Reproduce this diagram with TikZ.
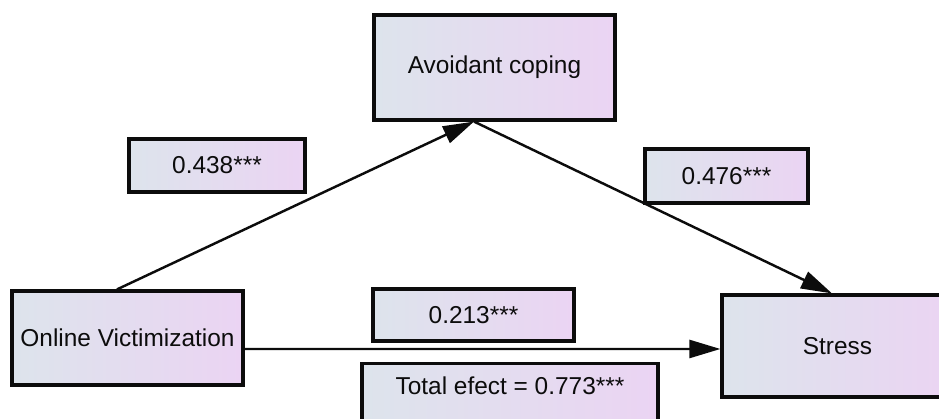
\documentclass[tikz,border=0pt]{standalone}
\usepackage{fontspec}
\setmainfont{Liberation Sans}
\definecolor{boxleft}{RGB}{221,228,236}
\definecolor{boxright}{RGB}{235,212,243}
\definecolor{boxline}{RGB}{12,12,12}
\usetikzlibrary{arrows.meta}

\begin{document}
\begin{tikzpicture}[
  vbox/.style={rectangle, draw=boxline, line width=1.8pt,
               left color=boxleft, right color=boxright,
               minimum width=4.62cm, minimum height=1.88cm, inner sep=0pt,
               font=\fontsize{13.9}{16}\selectfont, text=boxline},
  cbox/.style={rectangle, draw=boxline, line width=1.8pt,
               left color=boxleft, right color=boxright,
               minimum height=1.06cm, inner sep=0pt,
               font=\fontsize{13.9}{16}\selectfont, text=boxline},
  arr/.style={-{Triangle[length=0.62cm, width=0.36cm]}, line width=1.4pt, draw=boxline}
]
\useasboundingbox (0,0) rectangle (18.78,8.38);
\clip (0,0) rectangle (18.78,8.38);

% Variables
\node[vbox, minimum width=4.82cm, minimum height=2.1cm] (avoid)  at (9.89, 7.03) {Avoidant coping};
\node[vbox]                                             (victim) at (2.55, 1.62) {Online Victimization};
\node[vbox, minimum height=2.04cm]                      (stress) at (16.75,1.46) {Stress};

% Coefficients
\node[cbox, minimum width=3.52cm]                        (pa)  at (4.34, 5.07) {0.438***};
\node[cbox, minimum width=3.26cm, minimum height=1.08cm] (pb)  at (14.53,4.86) {0.476***};
\node[cbox, minimum width=4.02cm, minimum height=1.04cm] (pc)  at (9.47, 2.08) {0.213***};
\node[cbox, minimum width=5.92cm, minimum height=0pt,
      text height=0.62cm, text depth=0.64cm, anchor=north] (total) at (10.2, 1.14)
  {Total efect = 0.773***};

% Paths
\coordinate (apex) at ([xshift=-0.41cm]avoid.south);
\draw[arr] ([xshift=-0.21cm]victim.north) -- (apex);
\draw[arr] (apex) -- ([xshift=-0.11cm]stress.north);
\draw[arr] ([yshift=-0.22cm]victim.east) -- ([yshift=-0.06cm]stress.west);
\end{tikzpicture}
\end{document}
